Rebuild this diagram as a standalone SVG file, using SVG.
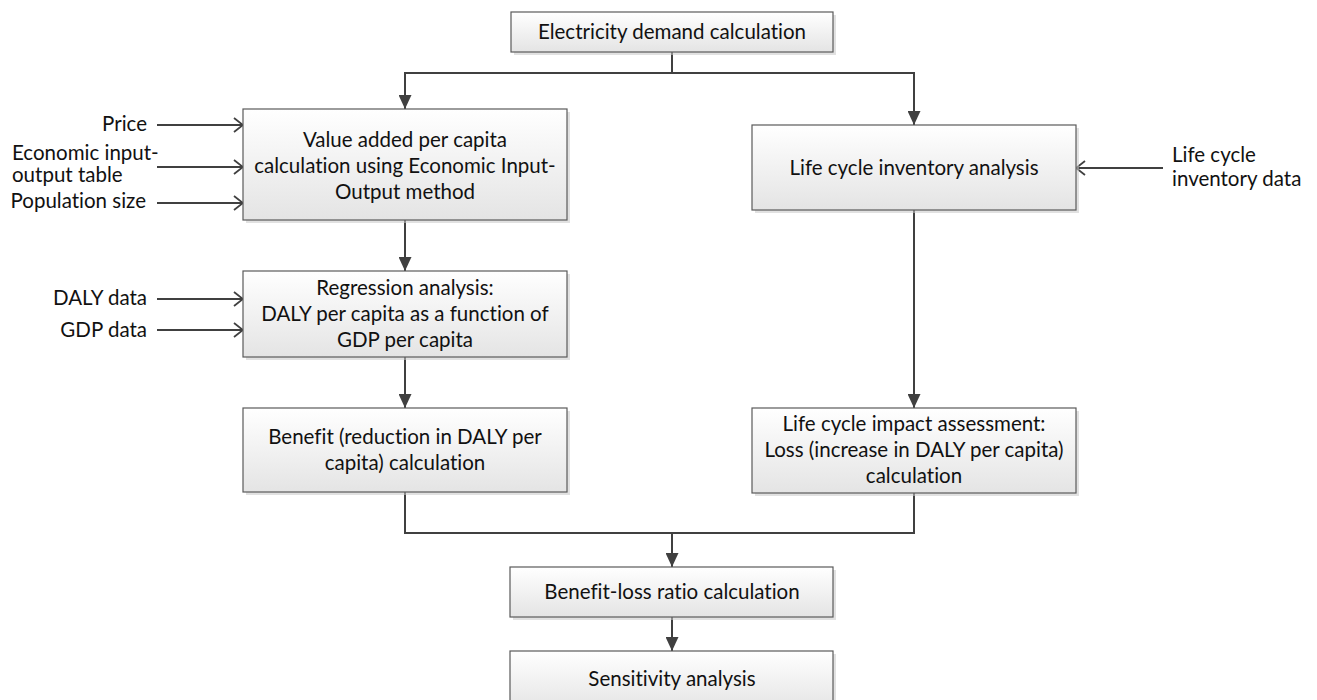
<svg xmlns="http://www.w3.org/2000/svg" width="1317" height="700" viewBox="0 0 1317 700">
<defs>
<linearGradient id="g" x1="0" y1="0" x2="0" y2="1">
<stop offset="0" stop-color="#ffffff"/>
<stop offset="1" stop-color="#e4e4e4"/>
</linearGradient>
<marker id="tri" viewBox="0 0 14 13" refX="14" refY="6.5" markerWidth="14" markerHeight="13" orient="auto" markerUnits="userSpaceOnUse">
<path d="M0,0 L14,6.5 L0,13 z" fill="#404040"/>
</marker>
<marker id="open" viewBox="0 0 11 16" refX="10" refY="8" markerWidth="11" markerHeight="16" orient="auto" markerUnits="userSpaceOnUse">
<path d="M1,1 L10,8 L1,15" fill="none" stroke="#404040" stroke-width="1.8"/>
</marker>
</defs>
<style>
.box{fill:url(#g);stroke:#5a5a5a;stroke-width:1.2}
.sh{fill:#c8c8c8;opacity:0.55}
.t{font-family:Lato,"Open Sans","Liberation Sans",sans-serif;font-size:20.5px;fill:#111;font-variant-ligatures:none}
.c{text-anchor:middle}
.e{text-anchor:end}
.ln{fill:none;stroke:#404040;stroke-width:2}
</style>
<rect width="1317" height="700" fill="#ffffff"/>

<g id="connectors">
<path class="ln" d="M672,52 V73 H405 V109" marker-end="url(#tri)"/>
<path class="ln" d="M672,73 H914 V125" marker-end="url(#tri)"/>
<path class="ln" d="M405,220 V271" marker-end="url(#tri)"/>
<path class="ln" d="M405,357 V408" marker-end="url(#tri)"/>
<path class="ln" d="M914,210 V408" marker-end="url(#tri)"/>
<path class="ln" d="M405,492 V533 H914 V493"/>
<path class="ln" d="M672,533 V567" marker-end="url(#tri)"/>
<path class="ln" d="M672,617 V651" marker-end="url(#tri)"/>
<path class="ln" d="M157,125 H243" marker-end="url(#open)"/>
<path class="ln" d="M157,167 H243" marker-end="url(#open)"/>
<path class="ln" d="M157,203 H243" marker-end="url(#open)"/>
<path class="ln" d="M157,299 H243" marker-end="url(#open)"/>
<path class="ln" d="M157,330 H243" marker-end="url(#open)"/>
<path class="ln" d="M1163,168 H1076" marker-end="url(#open)"/>
</g>

<g id="electricity-demand">
<rect class="sh" x="514" y="15" width="322" height="40"/>
<rect class="box" x="511" y="12" width="322" height="40"/>
<text class="t c" x="672" y="39">Electricity demand calculation</text>
</g>

<g id="value-added">
<rect class="sh" x="246" y="112" width="324" height="111"/>
<rect class="box" x="243" y="109" width="324" height="111"/>
<text class="t c" x="405" y="147">Value added per capita</text>
<text class="t c" x="405" y="173">calculation using Economic Input-</text>
<text class="t c" x="405" y="199">Output method</text>
</g>

<g id="lci">
<rect class="sh" x="755" y="128" width="324" height="85"/>
<rect class="box" x="752" y="125" width="324" height="85"/>
<text class="t c" x="914" y="175">Life cycle inventory analysis</text>
</g>

<g id="regression">
<rect class="sh" x="246" y="274" width="324" height="86"/>
<rect class="box" x="243" y="271" width="324" height="86"/>
<text class="t c" x="405" y="295">Regression analysis:</text>
<text class="t c" x="405" y="321">DALY per capita as a function of</text>
<text class="t c" x="405" y="347">GDP per capita</text>
</g>

<g id="benefit">
<rect class="sh" x="246" y="411" width="324" height="84"/>
<rect class="box" x="243" y="408" width="324" height="84"/>
<text class="t c" x="405" y="444">Benefit (reduction in DALY per</text>
<text class="t c" x="405" y="470">capita) calculation</text>
</g>

<g id="lcia">
<rect class="sh" x="755" y="411" width="324" height="85"/>
<rect class="box" x="752" y="408" width="324" height="85"/>
<text class="t c" x="914" y="431">Life cycle impact assessment:</text>
<text class="t c" x="914" y="457">Loss (increase in DALY per capita)</text>
<text class="t c" x="914" y="483">calculation</text>
</g>

<g id="benefit-loss">
<rect class="sh" x="513" y="570" width="323" height="50"/>
<rect class="box" x="510" y="567" width="323" height="50"/>
<text class="t c" x="672" y="599">Benefit-loss ratio calculation</text>
</g>

<g id="sensitivity">
<rect class="sh" x="513" y="654" width="323" height="60"/>
<rect class="box" x="510" y="651" width="323" height="60"/>
<text class="t c" x="672" y="686">Sensitivity analysis</text>
</g>

<g id="inputs">
<text class="t e" x="147" y="131">Price</text>
<text class="t" x="12" y="160">Economic input-</text>
<text class="t" x="12" y="182">output table</text>
<text class="t e" x="146" y="208">Population size</text>
<text class="t e" x="147" y="305">DALY data</text>
<text class="t e" x="147" y="337">GDP data</text>
<text class="t" x="1172" y="162">Life cycle</text>
<text class="t" x="1172" y="186">inventory data</text>
</g>
</svg>
